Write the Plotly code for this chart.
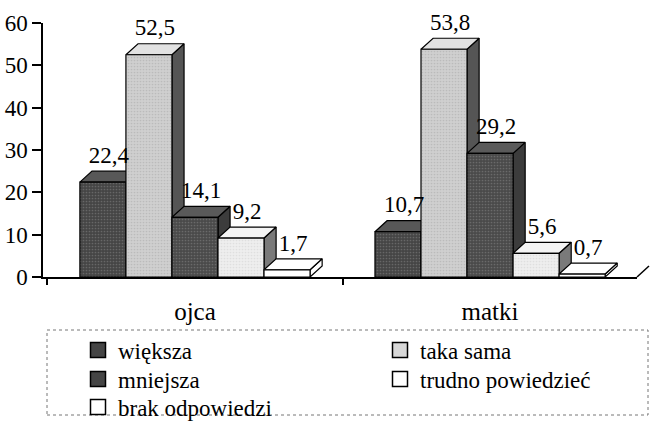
import plotly.graph_objects as go

# ---- data ----
categories = ["ojca", "matki"]
series_names = ["większa", "taka sama", "mniejsza", "trudno powiedzieć", "brak odpowiedzi"]
wieksza = [22.4, 10.7]
taka_sama = [52.5, 53.8]
mniejsza = [14.1, 29.2]
trudno = [9.2, 5.6]
brak = [1.7, 0.7]
values = [wieksza, taka_sama, mniejsza, trudno, brak]
y_ticks = [0, 10, 20, 30, 40, 50, 60]

# ---- styles ----
front_colors = ["#454545", "#cfcfcf", "#4a4a4a", "#eeeeee", "#ffffff"]
top_colors = ["#585858", "#e2e2e2", "#5a5a5a", "#f4f4f4", "#ffffff"]
side_colors = ["#3a3a3a", "#555555", "#3c3c3c", "#7a7a7a", "#ffffff"]
pattern_fg = ["#8a8a8a", "#a8a8a8", "#8a8a8a", "#cfcfcf", None]
legend_colors = ["#454545", "#d8d8d8", "#454545", "#ffffff", "#ffffff"]
# legend slots: (left of legend box px, row centre px)
legend_slots = [(78, 350), (380, 350), (78, 379), (380, 379), (78, 407)]

FONT = "Liberation Serif, Times New Roman, serif"
BAR_W = 0.156
DX = 0.041
DY = 2.6
LW = 1.2
LABEL_PAD = 0.6

fig = go.Figure()

for ci, cat in enumerate(categories):
    for si in range(len(series_names)):
        v = values[si][ci]
        x0 = ci + (si - 2.5) * BAR_W
        x1 = x0 + BAR_W
        fig.add_trace(go.Scatter(
            x=[x1, x1 + DX, x1 + DX, x1, x1], y=[0, DY, v + DY, v, 0],
            mode="lines", fill="toself", fillcolor=side_colors[si],
            line=dict(color="black", width=LW), showlegend=False, hoverinfo="skip"))
        fig.add_trace(go.Scatter(
            x=[x0, x1, x1 + DX, x0 + DX, x0], y=[v, v, v + DY, v + DY, v],
            mode="lines", fill="toself", fillcolor=top_colors[si],
            line=dict(color="black", width=LW), showlegend=False, hoverinfo="skip"))
        front = dict(
            x=[x0, x1, x1, x0, x0], y=[0, 0, v, v, 0],
            mode="lines", fill="toself", fillcolor=front_colors[si],
            line=dict(color="black", width=LW), showlegend=False, hoverinfo="skip")
        if pattern_fg[si]:
            front["fillpattern"] = dict(shape=".", size=3, solidity=0.25,
                                        fgcolor=pattern_fg[si], bgcolor=front_colors[si])
        fig.add_trace(go.Scatter(**front))

for si in range(len(series_names)):
    xs = [ci + (si - 2.5) * BAR_W + BAR_W / 2 + DX / 2 for ci in range(len(categories))]
    ys = [values[si][ci] + DY + LABEL_PAD for ci in range(len(categories))]
    txt = [f"{v:.1f}".replace(".", ",") for v in values[si]]
    fig.add_trace(go.Scatter(
        x=xs, y=ys, text=txt, mode="text", textposition="top center",
        textfont=dict(family=FONT, size=23, color="black"),
        showlegend=False, hoverinfo="skip", cliponaxis=False))

legends = {}
for si, name in enumerate(series_names):
    lid = "legend" if si == 0 else f"legend{si + 1}"
    fig.add_trace(go.Scatter(
        x=[None], y=[None], mode="markers", name=name, legend=lid,
        marker=dict(symbol="square", size=15, color=legend_colors[si],
                    line=dict(color="black", width=1.5))))
    lx, ly = legend_slots[si]
    legends[lid] = dict(
        x=(lx - 43) / 594, y=(277 - ly) / 254, xanchor="left", yanchor="middle",
        orientation="v", font=dict(family=FONT, size=23, color="black"),
        bgcolor="rgba(0,0,0,0)", itemclick=False)

fig.update_layout(
    width=650, height=427,
    margin=dict(l=43, r=13, t=23, b=150, autoexpand=False),
    paper_bgcolor="white", plot_bgcolor="white",
    font=dict(family=FONT, color="black"),
    showlegend=True,
    xaxis=dict(
        type="linear", range=[-0.515, 1.498],
        tickvals=[0, 1], ticktext=categories, ticks="",
        tickfont=dict(family=FONT, size=25, color="black"),
        ticklabelstandoff=11,
        showline=True, linecolor="black", linewidth=1.5,
        showgrid=False, zeroline=False, fixedrange=True,
        minor=dict(tickvals=[-0.5, 0.5, 1.5], ticks="outside", ticklen=6,
                   tickcolor="black", tickwidth=1.5, showgrid=False),
    ),
    yaxis=dict(
        range=[0, 60], tickvals=y_ticks, ticks="outside", ticklen=9,
        tickcolor="black", tickwidth=1.5,
        tickfont=dict(family=FONT, size=23, color="black"),
        showline=True, linecolor="black", linewidth=1.5,
        showgrid=False, zeroline=False, fixedrange=True,
    ),
    shapes=[
        dict(type="rect", xref="paper", yref="paper",
             x0=(47 - 43) / 594, x1=(648 - 43) / 594,
             y0=(277 - 415) / 254, y1=(277 - 330) / 254,
             line=dict(color="#777777", width=1, dash="dot")),
        dict(type="line", xref="paper", yref="paper",
             x0=1, y0=0, x1=1 + 12 / 594, y1=11 / 254,
             line=dict(color="black", width=1.5)),
    ],
    **legends,
)

fig.write_html("out.html",
               config={"displayModeBar": False},
               post_script="document.body.style.margin='0';"
                           "document.documentElement.style.overflow='hidden';")
